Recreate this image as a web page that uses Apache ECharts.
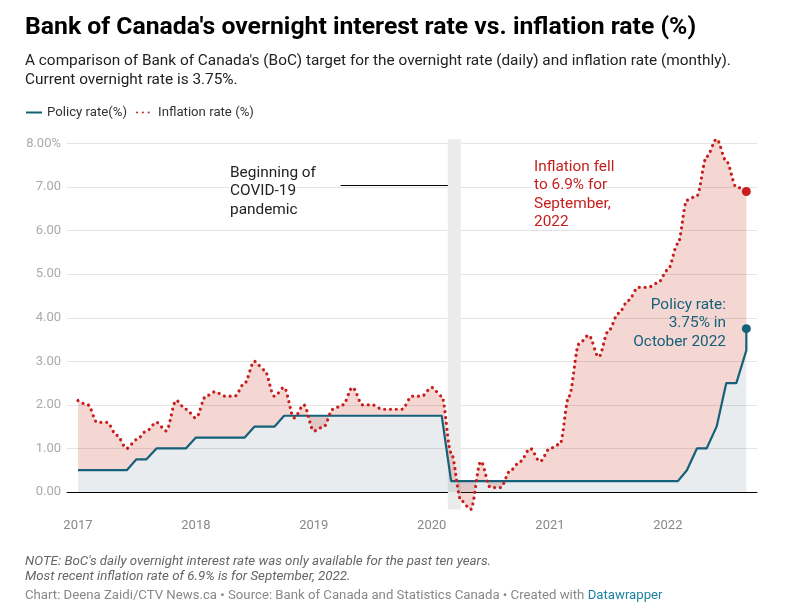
<!DOCTYPE html>
<html>
<head>
<meta charset="utf-8">
<title>Bank of Canada's overnight interest rate vs. inflation rate</title>
<style>
  html, body { margin: 0; padding: 0; background: #fff; }
  #main { width: 786px; height: 608px; }
</style>
<script src="https://cdn.jsdelivr.net/npm/echarts@6/dist/echarts.min.js"></script>
</head>
<body>
<div id="main"></div>
<script>
// monthly values, Jan 2017 to Sep 2022
var inflation = [
  2.1, 2.0, 1.6, 1.6, 1.3, 1.0, 1.2, 1.4, 1.6, 1.4, 2.1, 1.9,
  1.7, 2.2, 2.3, 2.2, 2.2, 2.5, 3.0, 2.8, 2.2, 2.4, 1.7, 2.0,
  1.4, 1.5, 1.9, 2.0, 2.4, 2.0, 2.0, 1.9, 1.9, 1.9, 2.2, 2.2,
  2.4, 2.2, 0.9, -0.2, -0.4, 0.7, 0.1, 0.1, 0.5, 0.7, 1.0, 0.7,
  1.0, 1.1, 2.2, 3.4, 3.6, 3.1, 3.7, 4.1, 4.4, 4.7, 4.7, 4.8,
  5.1, 5.7, 6.7, 6.8, 7.7, 8.1, 7.6, 7.0, 6.9
];
var policy = [
  0.5, 0.5, 0.5, 0.5, 0.5, 0.5, 0.75, 0.75, 1, 1, 1, 1,
  1.25, 1.25, 1.25, 1.25, 1.25, 1.25, 1.5, 1.5, 1.5, 1.75, 1.75, 1.75,
  1.75, 1.75, 1.75, 1.75, 1.75, 1.75, 1.75, 1.75, 1.75, 1.75, 1.75, 1.75,
  1.75, 1.75, 0.25, 0.25, 0.25, 0.25, 0.25, 0.25, 0.25, 0.25, 0.25, 0.25,
  0.25, 0.25, 0.25, 0.25, 0.25, 0.25, 0.25, 0.25, 0.25, 0.25, 0.25, 0.25,
  0.25, 0.25, 0.5, 1, 1, 1.5, 2.5, 2.5, 3.25
];
var currentPolicy = 3.75;
var yTicks = [0, 1, 2, 3, 4, 5, 6, 7, 8];
var xTickYears = [2017, 2018, 2019, 2020, 2021, 2022];
var covidBand = [new Date(2020, 1, 20).getTime(), new Date(2020, 2, 31).getTime()];
var covidLineStart = new Date(2019, 2, 25).getTime();
var covidLineValue = 7.04;

var RED = '#c71e1d';
var BLUE = '#15607a';
var FONT = 'Roboto';
var X_MIN = new Date(2016, 10, 28).getTime();
var X_MAX = new Date(2022, 9, 4).getTime();

var months = inflation.map(function (v, i) {
  return new Date(2017, i, 1).getTime();
});
var lastMonth = months[months.length - 1];

function pair(values) {
  return values.map(function (v, i) {
    return [months[i], v];
  });
}

var policyLine = pair(policy).concat([[lastMonth, currentPolicy]]);
var gap = inflation.map(function (v, i) {
  return v - policy[i];
});

function label(x, y, text, color, align, halo) {
  return {
    type: 'text',
    x: x,
    y: y,
    z: 20,
    silent: true,
    style: {
      text: text,
      fill: color,
      font: '15.4px ' + FONT,
      lineHeight: 18.3,
      align: align || 'left',
      stroke: halo ? '#fff' : null,
      lineWidth: halo ? 4 : 0
    }
  };
}

var myChart = echarts.init(document.getElementById('main'), null, {renderer: 'canvas'});

var option = {
  animation: false,
  backgroundColor: '#fff',
  textStyle: {fontFamily: FONT},
  title: [
    {
      text: "Bank of Canada's overnight interest rate vs. inflation rate (%)",
      left: 25, top: 15, padding: 0,
      textStyle: {fontFamily: FONT, fontSize: 24.75, fontWeight: 700, color: '#000'}
    },
    {
      text: "A comparison of Bank of Canada's (BoC) target for the overnight rate (daily) and inflation rate (monthly).\nCurrent overnight rate is 3.75%.",
      left: 25, top: 52, padding: 0,
      textStyle: {fontFamily: FONT, fontSize: 15.37, fontWeight: 400, color: '#222', lineHeight: 19}
    }
  ],
  legend: {
    left: 25, top: 106, padding: 0,
    itemWidth: 16, itemHeight: 10, itemGap: 9,
    itemStyle: {opacity: 0},
    textStyle: {fontFamily: FONT, fontSize: 13.2, color: '#333'},
    data: ['Policy rate(%)', 'Inflation rate (%)']
  },
  grid: {left: 67, right: 29, top: 139.2, bottom: 98.6},
  xAxis: [
    {
      type: 'value',
      min: X_MIN,
      max: X_MAX,
      axisLine: {onZero: true, lineStyle: {color: '#000', width: 1}},
      axisTick: {show: false},
      splitLine: {show: false},
      axisLabel: {
        customValues: xTickYears.map(function (y) { return new Date(y, 0, 1).getTime(); }),
        formatter: function (v) { return String(new Date(v).getFullYear()); },
        color: '#888',
        fontFamily: FONT,
        fontSize: 13,
        margin: 10
      }
    },
    {
      // hidden: stacking needs a time axis to stack along y
      type: 'time',
      show: false,
      min: X_MIN,
      max: X_MAX
    }
  ],
  yAxis: {
    type: 'value',
    min: -0.4,
    max: 8.1,
    axisLine: {show: false},
    axisTick: {show: false, customValues: yTicks},
    splitLine: {show: true, lineStyle: {color: '#e4e4e4', width: 1}},
    axisLabel: {
      customValues: yTicks,
      formatter: function (v) { return v === 8 ? '8.00%' : v.toFixed(2); },
      color: '#aaa',
      fontFamily: FONT,
      fontSize: 13,
      margin: 6
    }
  },
  series: [
    {
      // invisible base of the band between the two lines
      name: 'base',
      type: 'line',
      xAxisIndex: 1,
      stack: 'band',
      stackStrategy: 'all',
      data: pair(policy),
      symbol: 'none',
      lineStyle: {opacity: 0},
      markArea: {
        silent: true,
        itemStyle: {color: '#ebebeb'},
        data: [[{xAxis: covidBand[0]}, {xAxis: covidBand[1]}]]
      },
      z: 1
    },
    {
      name: 'band',
      type: 'line',
      xAxisIndex: 1,
      stack: 'band',
      stackStrategy: 'all',
      data: pair(gap),
      symbol: 'none',
      smooth: 0.33,
      smoothMonotone: 'x',
      lineStyle: {opacity: 0},
      areaStyle: {color: 'rgb(200,50,30)', opacity: 0.2},
      clip: false,
      z: 2
    },
    {
      name: 'Policy rate(%)',
      type: 'line',
      data: policyLine,
      symbol: 'none',
      lineStyle: {color: BLUE, width: 2.2},
      itemStyle: {color: BLUE},
      areaStyle: {color: 'rgb(63,97,122)', opacity: 0.12},
      z: 3
    },
    {
      name: 'Inflation rate (%)',
      type: 'line',
      data: pair(inflation),
      symbol: 'none',
      smooth: 0.33,
      smoothMonotone: 'x',
      clip: false,
      lineStyle: {color: RED, width: 3.2, type: [0.01, 5.8], cap: 'round'},
      itemStyle: {color: RED},
      markLine: {
        silent: true,
        symbol: 'none',
        label: {show: false},
        lineStyle: {color: '#000', width: 1, type: 'solid'},
        data: [[
          {coord: [covidLineStart, covidLineValue]},
          {coord: [covidBand[0], covidLineValue]}
        ]]
      },
      z: 4
    },
    {
      name: 'latest',
      type: 'scatter',
      symbolSize: 9,
      clip: false,
      itemStyle: {opacity: 1},
      data: [
        {value: [lastMonth, inflation[inflation.length - 1]], itemStyle: {color: RED, opacity: 1}},
        {value: [lastMonth, currentPolicy], itemStyle: {color: BLUE, opacity: 1}}
      ],
      z: 5
    }
  ],
  graphic: [
    label(230, 164, 'Beginning of\nCOVID-19\npandemic', '#222', 'left', true),
    label(534, 158, 'Inflation fell\nto 6.9% for\nSeptember,\n2022', RED, 'left', true),
    label(726, 296, 'Policy rate:\n3.75% in\nOctober 2022', BLUE, 'right', false),
    {
      type: 'text', x: 25, y: 554,
      style: {
        text: "NOTE: BoC's daily overnight interest rate was only available for the past ten years.\nMost recent inflation rate of 6.9% is for September, 2022.",
        fill: '#666', font: 'italic 13.3px ' + FONT, lineHeight: 15
      }
    },
    {
      type: 'text', x: 25, y: 589,
      style: {
        text: '{a|Chart: Deena Zaidi/CTV News.ca • Source: Bank of Canada and Statistics Canada • Created with }{b|Datawrapper}',
        rich: {
          a: {fill: '#888', font: '13.2px ' + FONT},
          b: {fill: '#1d81a2', font: '13.2px ' + FONT}
        }
      }
    }
  ]
};

myChart.setOption(option);
</script>
</body>
</html>
